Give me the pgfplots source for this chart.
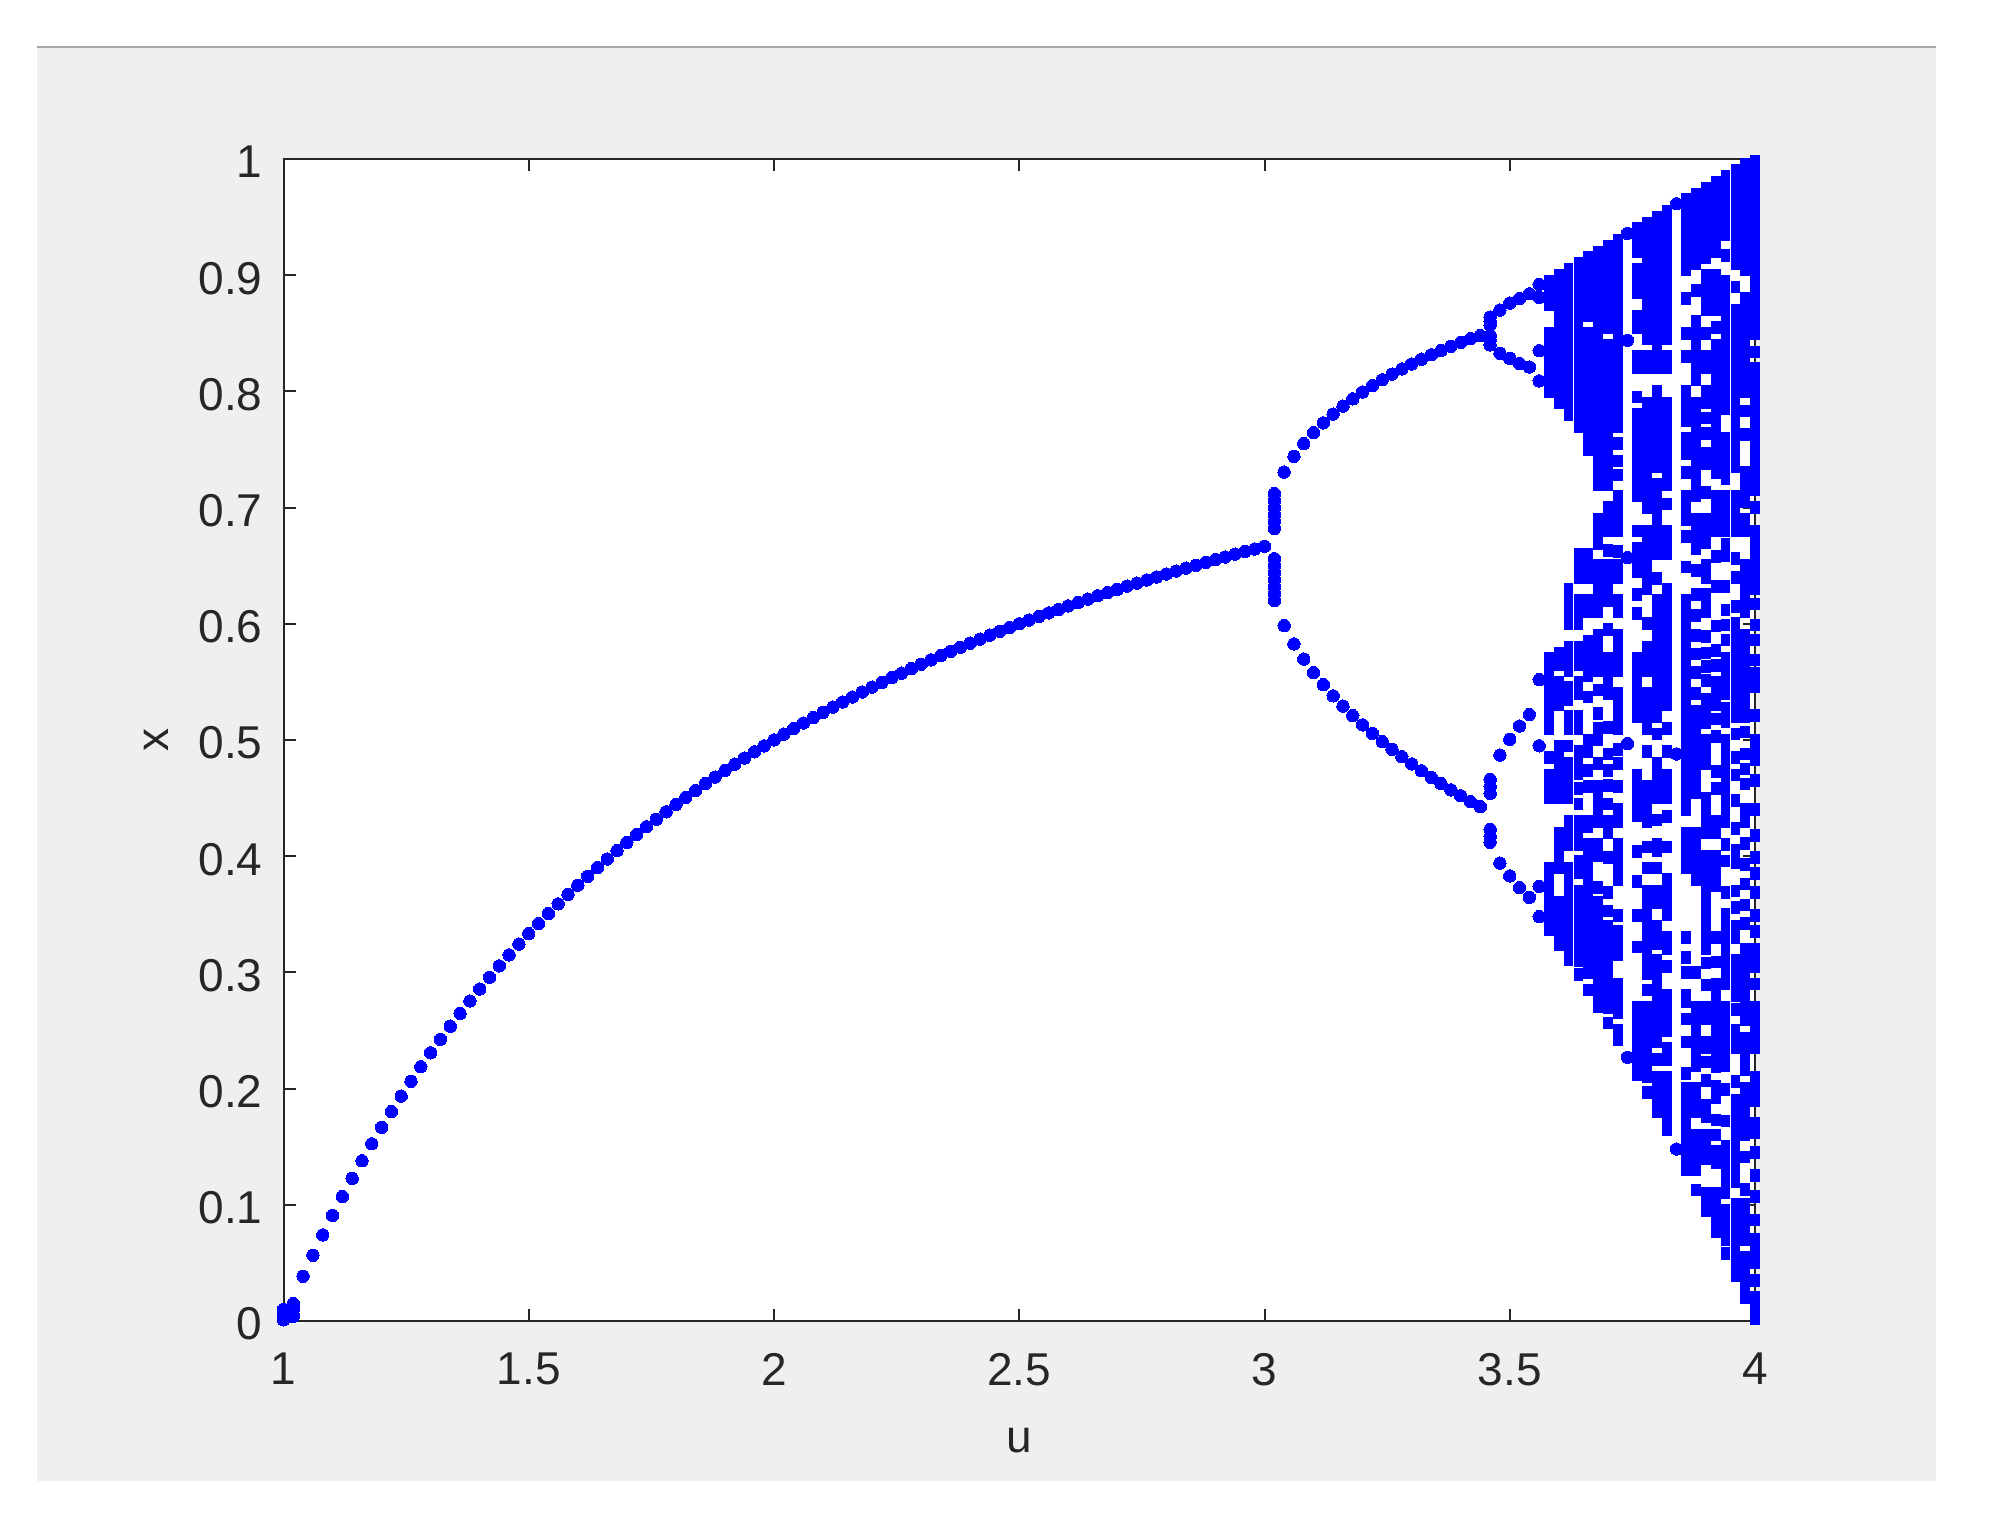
\documentclass[border=0pt]{standalone}
\usepackage{fontspec}
\setmainfont{Liberation Sans}
\usepackage{pgfplots}
\pgfplotsset{compat=1.18}
\definecolor{panel}{HTML}{EFEFEF}
\definecolor{axdark}{HTML}{262626}
\definecolor{topline}{HTML}{A6A6A6}
\begin{document}
\begin{tikzpicture}[x=1pt,y=1pt]
\path[use as bounding box,fill=white] (0,0) rectangle (1001,760);
\fill[panel] (18.5,19.5) rectangle (968,736);
\draw[topline,line width=1pt] (18.5,736.5) -- (968,736.5);
\begin{axis}[
  at={(141.75pt,99.5pt)}, anchor=south west,
  scale only axis, width=735.75pt, height=581pt,
  xmin=1, xmax=4, ymin=0, ymax=1,
  axis background/.style={fill=white},
  clip=false,
  axis line style={draw=axdark,line width=1pt},
  tick style={draw=axdark,line width=1pt},
  tick align=inside, major tick length=6pt,
  xtick={1,1.5,2,2.5,3,3.5,4},
  ytick={0,0.1,0.2,0.3,0.4,0.5,0.6,0.7,0.8,0.9,1},
  xticklabels={1,1.5,2,2.5,3,3.5,4},
  yticklabels={0,0.1,0.2,0.3,0.4,0.5,0.6,0.7,0.8,0.9,1},
  tick label style={font=\fontsize{23}{23}\selectfont,text=axdark},
  xticklabel style={yshift=-12.5pt},
  yticklabel style={xshift=-7pt,yshift=-1.5pt},
  xlabel={u}, ylabel={x},
  label style={font=\fontsize{23}{23}\selectfont,text=axdark},
  xlabel style={yshift=-14.5pt},
  ylabel style={yshift=8pt},
]
\addplot[only marks,mark=*,mark size=3.1pt,color=blue,mark options={fill=blue,draw=blue,line width=0pt}] coordinates {
(1,.001)(1,.004)(1,.007)(1,.01)(1.02,.004)(1.02,.01)(1.02,.015)
(1.04,.0385)(1.06,.0566)(1.08,.0741)(1.1,.0909)(1.12,.1071)(1.14,.1228)(1.16,.1379)(1.18,.1525)(1.2,.1667)(1.22,.1803)(1.24,.1935)(1.26,.2063)(1.28,.2188)(1.3,.2308)(1.32,.2424)(1.34,.2537)(1.36,.2647)(1.38,.2754)(1.4,.2857)(1.42,.2958)(1.44,.3056)(1.46,.3151)(1.48,.3243)(1.5,.3333)
(1.52,.3421)(1.54,.3506)(1.56,.359)(1.58,.3671)(1.6,.375)(1.62,.3827)(1.64,.3902)(1.66,.3976)(1.68,.4048)(1.7,.4118)(1.72,.4186)(1.74,.4253)(1.76,.4318)(1.78,.4382)(1.8,.4444)(1.82,.4505)(1.84,.4565)(1.86,.4624)(1.88,.4681)(1.9,.4737)(1.92,.4792)(1.94,.4845)(1.96,.4898)(1.98,.4949)(2,.5)
(2.02,.505)(2.04,.5098)(2.06,.5146)(2.08,.5192)(2.1,.5238)(2.12,.5283)(2.14,.5327)(2.16,.537)(2.18,.5413)(2.2,.5455)(2.22,.5495)(2.24,.5536)(2.26,.5575)(2.28,.5614)(2.3,.5652)(2.32,.569)(2.34,.5726)(2.36,.5763)(2.38,.5798)(2.4,.5833)(2.42,.5868)(2.44,.5902)(2.46,.5935)(2.48,.5968)(2.5,.6)
(2.52,.6032)(2.54,.6063)(2.56,.6094)(2.58,.6124)(2.6,.6154)(2.62,.6183)(2.64,.6212)(2.66,.6241)(2.68,.6269)(2.7,.6296)(2.72,.6324)(2.74,.635)(2.76,.6377)(2.78,.6403)(2.8,.6429)(2.82,.6454)(2.84,.6479)(2.86,.6503)(2.88,.6528)(2.9,.6552)(2.92,.6575)(2.94,.6599)(2.96,.6622)(2.98,.6644)(3,.6667)
(3.02,.712)(3.02,.706)(3.02,.70)(3.02,.694)(3.02,.688)(3.02,.682)(3.02,.656)(3.02,.65)(3.02,.644)(3.02,.638)(3.02,.632)(3.02,.626)(3.02,.62)
(3.04,.7306)(3.04,.5984)(3.06,.7441)(3.06,.5827)(3.08,.7551)(3.08,.5696)(3.1,.7646)(3.1,.558)(3.12,.7729)(3.12,.5476)(3.14,.7805)(3.14,.538)(3.16,.7873)(3.16,.5292)(3.18,.7936)(3.18,.5209)(3.2,.7995)(3.2,.513)(3.22,.8049)(3.22,.5057)(3.24,.81)(3.24,.4986)(3.26,.8148)(3.26,.492)(3.28,.8193)(3.28,.4856)(3.3,.8236)(3.3,.4794)
(3.32,.8277)(3.32,.4735)(3.34,.8315)(3.34,.4679)(3.36,.8352)(3.36,.4624)(3.38,.8388)(3.38,.4571)(3.4,.8421)(3.4,.452)(3.42,.8454)(3.42,.447)(3.44,.8481)(3.44,.4426)
(3.46,.857)(3.46,.86)(3.46,.864)(3.46,.844)(3.46,.84)(3.46,.848)(3.46,.466)(3.46,.46)(3.46,.454)(3.46,.423)(3.46,.417)(3.46,.412)
(3.48,.87)(3.48,.8328)(3.48,.487)(3.48,.394)
(3.5,.876)(3.5,.8285)(3.5,.5006)(3.5,.383)
(3.52,.88)(3.52,.824)(3.52,.512)(3.52,.373)
(3.54,.884)(3.54,.821)(3.54,.522)(3.54,.3646)
(3.56,.892)(3.56,.881)(3.56,.835)(3.56,.809)(3.56,.552)(3.56,.495)(3.56,.374)(3.56,.348)
(3.74,.936)(3.74,.844)(3.74,.657)(3.74,.497)(3.74,.227)
(3.84,.9615)(3.84,.488)(3.84,.148)
};
\addplot[only marks,mark=square*,mark size=2.9pt,color=blue,mark options={xscale=.75,fill=blue,draw=blue,line width=0pt}] coordinates {
(3.58,.895)(3.58,.885)(3.58,.875)(3.58,.85)(3.58,.84)(3.58,.83)(3.58,.82)(3.58,.81)(3.58,.80)(3.58,.57)(3.58,.56)(3.58,.55)(3.58,.54)(3.58,.53)(3.58,.52)(3.58,.51)(3.58,.485)(3.58,.47)(3.58,.46)(3.58,.45)(3.58,.39)(3.58,.38)(3.58,.37)(3.58,.36)(3.58,.35)(3.58,.34)(3.58,.3364)
(3.6,.9)(3.6,.89)(3.6,.88)(3.6,.87)(3.6,.86)(3.6,.85)(3.6,.84)(3.6,.83)(3.6,.82)(3.6,.81)(3.6,.8)(3.6,.79)(3.6,.575)(3.6,.565)(3.6,.55)(3.6,.54)(3.6,.53)(3.6,.495)(3.6,.49)(3.6,.48)(3.6,.47)(3.6,.46)(3.6,.45)(3.6,.42)(3.6,.41)(3.6,.4)(3.6,.39)(3.6,.36)(3.6,.35)(3.6,.34)(3.6,.33)(3.6,.324)
(3.62,.905)(3.62,.895)(3.62,.89)(3.62,.88)(3.62,.87)(3.62,.86)(3.62,.85)(3.62,.84)(3.62,.83)(3.62,.82)(3.62,.81)(3.62,.8)(3.62,.79)(3.62,.78)(3.62,.63)(3.62,.62)(3.62,.61)(3.62,.6)(3.62,.58)(3.62,.57)(3.62,.56)(3.62,.545)(3.62,.535)(3.62,.52)(3.62,.51)(3.62,.495)(3.62,.48)(3.62,.47)(3.62,.46)(3.62,.45)(3.62,.43)(3.62,.42)(3.62,.41)(3.62,.39)(3.62,.38)(3.62,.37)(3.62,.36)(3.62,.35)(3.62,.34)(3.62,.33)(3.62,.32)(3.62,.3113)
(3.64,.91)(3.64,.9)(3.64,.89)(3.64,.88)(3.64,.87)(3.64,.86)(3.64,.85)(3.64,.84)(3.64,.83)(3.64,.82)(3.64,.81)(3.64,.8)(3.64,.79)(3.64,.78)(3.64,.77)(3.64,.66)(3.64,.65)(3.64,.64)(3.64,.62)(3.64,.61)(3.64,.6)(3.64,.58)(3.64,.57)(3.64,.565)(3.64,.55)(3.64,.54)(3.64,.52)(3.64,.51)(3.64,.49)(3.64,.48)(3.64,.471)(3.64,.458)(3.64,.445)(3.64,.43)(3.64,.42)(3.64,.41)(3.64,.396)(3.64,.386)(3.64,.37)(3.64,.36)(3.64,.35)(3.64,.34)(3.64,.33)(3.64,.32)(3.64,.31)(3.64,.2982)
(3.66,.915)(3.66,.905)(3.66,.895)(3.66,.885)(3.66,.875)(3.66,.865)(3.66,.85)(3.66,.84)(3.66,.83)(3.66,.82)(3.66,.81)(3.66,.8)(3.66,.79)(3.66,.78)(3.66,.77)(3.66,.76)(3.66,.75)(3.66,.66)(3.66,.65)(3.66,.64)(3.66,.62)(3.66,.61)(3.66,.585)(3.66,.575)(3.66,.565)(3.66,.555)(3.66,.537)(3.66,.5)(3.66,.49)(3.66,.474)(3.66,.46)(3.66,.43)(3.66,.425)(3.66,.41)(3.66,.4)(3.66,.39)(3.66,.38)(3.66,.37)(3.66,.36)(3.66,.35)(3.66,.34)(3.66,.33)(3.66,.32)(3.66,.31)(3.66,.3)(3.66,.2847)
(3.68,.92)(3.68,.91)(3.68,.9)(3.68,.89)(3.68,.88)(3.68,.87)(3.68,.86)(3.68,.85)(3.68,.84)(3.68,.83)(3.68,.82)(3.68,.81)(3.68,.8)(3.68,.79)(3.68,.78)(3.68,.77)(3.68,.76)(3.68,.75)(3.68,.74)(3.68,.73)(3.68,.72)(3.68,.69)(3.68,.68)(3.68,.669)(3.68,.65)(3.68,.64)(3.68,.63)(3.68,.62)(3.68,.61)(3.68,.59)(3.68,.58)(3.68,.57)(3.68,.56)(3.68,.543)(3.68,.523)(3.68,.51)(3.68,.5)(3.68,.48)(3.68,.46)(3.68,.45)(3.68,.44)(3.68,.43)(3.68,.41)(3.68,.4)(3.68,.373)(3.68,.36)(3.68,.35)(3.68,.34)(3.68,.33)(3.68,.32)(3.68,.31)(3.68,.3)(3.68,.29)(3.68,.28)(3.68,.2708)
(3.7,.925)(3.7,.915)(3.7,.905)(3.7,.895)(3.7,.885)(3.7,.875)(3.7,.865)(3.7,.855)(3.7,.84)(3.7,.83)(3.7,.82)(3.7,.81)(3.7,.8)(3.7,.79)(3.7,.78)(3.7,.77)(3.7,.76)(3.7,.75)(3.7,.74)(3.7,.73)(3.7,.72)(3.7,.7)(3.7,.69)(3.7,.68)(3.7,.663)(3.7,.65)(3.7,.64)(3.7,.63)(3.7,.62)(3.7,.595)(3.7,.57)(3.7,.56)(3.7,.55)(3.7,.54)(3.7,.511)(3.7,.488)(3.7,.474)(3.7,.461)(3.7,.445)(3.7,.43)(3.7,.42)(3.7,.399)(3.7,.369)(3.7,.353)(3.7,.34)(3.7,.33)(3.7,.32)(3.7,.31)(3.7,.3)(3.7,.29)(3.7,.28)(3.7,.27)(3.7,.2566)
(3.72,.93)(3.72,.92)(3.72,.91)(3.72,.9)(3.72,.89)(3.72,.88)(3.72,.87)(3.72,.86)(3.72,.85)(3.72,.84)(3.72,.83)(3.72,.82)(3.72,.81)(3.72,.8)(3.72,.79)(3.72,.78)(3.72,.77)(3.72,.755)(3.72,.74)(3.72,.728)(3.72,.71)(3.72,.7)(3.72,.69)(3.72,.68)(3.72,.662)(3.72,.65)(3.72,.64)(3.72,.62)(3.72,.61)(3.72,.59)(3.72,.58)(3.72,.57)(3.72,.56)(3.72,.54)(3.72,.53)(3.72,.52)(3.72,.51)(3.72,.492)(3.72,.48)(3.72,.46)(3.72,.44)(3.72,.43)(3.72,.41)(3.72,.4)(3.72,.39)(3.72,.38)(3.72,.349)(3.72,.335)(3.72,.325)(3.72,.315)(3.72,.29)(3.72,.28)(3.72,.27)(3.72,.265)(3.72,.25)(3.72,.2421)
(3.76,.94)(3.76,.93)(3.76,.92)(3.76,.905)(3.76,.895)(3.76,.885)(3.76,.865)(3.76,.855)(3.76,.83)(3.76,.82)(3.76,.795)(3.76,.78)(3.76,.77)(3.76,.76)(3.76,.75)(3.76,.74)(3.76,.73)(3.76,.72)(3.76,.71)(3.76,.68)(3.76,.665)(3.76,.655)(3.76,.645)(3.76,.625)(3.76,.609)(3.76,.57)(3.76,.56)(3.76,.55)(3.76,.54)(3.76,.53)(3.76,.52)(3.76,.47)(3.76,.46)(3.76,.45)(3.76,.44)(3.76,.435)(3.76,.404)(3.76,.378)(3.76,.349)(3.76,.322)(3.76,.27)(3.76,.26)(3.76,.25)(3.76,.24)(3.76,.23)(3.76,.22)(3.76,.2121)
(3.78,.945)(3.78,.935)(3.78,.925)(3.78,.915)(3.78,.905)(3.78,.895)(3.78,.885)(3.78,.875)(3.78,.865)(3.78,.855)(3.78,.845)(3.78,.83)(3.78,.82)(3.78,.79)(3.78,.78)(3.78,.77)(3.78,.76)(3.78,.75)(3.78,.74)(3.78,.73)(3.78,.72)(3.78,.71)(3.78,.7)(3.78,.68)(3.78,.67)(3.78,.66)(3.78,.65)(3.78,.64)(3.78,.63)(3.78,.6)(3.78,.58)(3.78,.57)(3.78,.56)(3.78,.54)(3.78,.53)(3.78,.52)(3.78,.51)(3.78,.49)(3.78,.46)(3.78,.45)(3.78,.44)(3.78,.43)(3.78,.408)(3.78,.39)(3.78,.37)(3.78,.36)(3.78,.35)(3.78,.34)(3.78,.33)(3.78,.32)(3.78,.31)(3.78,.299)(3.78,.285)(3.78,.27)(3.78,.26)(3.78,.25)(3.78,.24)(3.78,.23)(3.78,.22)(3.78,.21)(3.78,.1965)
(3.8,.95)(3.8,.94)(3.8,.93)(3.8,.92)(3.8,.91)(3.8,.9)(3.8,.89)(3.8,.88)(3.8,.87)(3.8,.86)(3.8,.85)(3.8,.84)(3.8,.83)(3.8,.82)(3.8,.8)(3.8,.79)(3.8,.78)(3.8,.77)(3.8,.76)(3.8,.75)(3.8,.74)(3.8,.735)(3.8,.72)(3.8,.71)(3.8,.7)(3.8,.69)(3.8,.68)(3.8,.67)(3.8,.66)(3.8,.639)(3.8,.62)(3.8,.61)(3.8,.6)(3.8,.59)(3.8,.58)(3.8,.57)(3.8,.56)(3.8,.55)(3.8,.54)(3.8,.53)(3.8,.52)(3.8,.505)(3.8,.48)(3.8,.47)(3.8,.46)(3.8,.45)(3.8,.431)(3.8,.41)(3.8,.405)(3.8,.39)(3.8,.37)(3.8,.36)(3.8,.34)(3.8,.33)(3.8,.325)(3.8,.31)(3.8,.3)(3.8,.29)(3.8,.28)(3.8,.27)(3.8,.26)(3.8,.25)(3.8,.24)(3.8,.225)(3.8,.21)(3.8,.2)(3.8,.19)(3.8,.1805)
(3.82,.955)(3.82,.945)(3.82,.935)(3.82,.925)(3.82,.915)(3.82,.905)(3.82,.895)(3.82,.885)(3.82,.875)(3.82,.865)(3.82,.855)(3.82,.845)(3.82,.83)(3.82,.82)(3.82,.79)(3.82,.78)(3.82,.77)(3.82,.76)(3.82,.75)(3.82,.74)(3.82,.73)(3.82,.72)(3.82,.703)(3.82,.68)(3.82,.67)(3.82,.66)(3.82,.63)(3.82,.62)(3.82,.61)(3.82,.6)(3.82,.59)(3.82,.58)(3.82,.57)(3.82,.56)(3.82,.55)(3.82,.54)(3.82,.53)(3.82,.51)(3.82,.49)(3.82,.47)(3.82,.46)(3.82,.45)(3.82,.434)(3.82,.408)(3.82,.38)(3.82,.37)(3.82,.36)(3.82,.35)(3.82,.33)(3.82,.32)(3.82,.305)(3.82,.28)(3.82,.27)(3.82,.26)(3.82,.25)(3.82,.235)(3.82,.225)(3.82,.21)(3.82,.2)(3.82,.19)(3.82,.18)(3.82,.17)(3.82,.1642)
(3.86,.965)(3.86,.955)(3.86,.945)(3.86,.935)(3.86,.925)(3.86,.915)(3.86,.905)(3.86,.88)(3.86,.85)(3.86,.83)(3.86,.8)(3.86,.79)(3.86,.784)(3.86,.775)(3.86,.76)(3.86,.755)(3.86,.746)(3.86,.73)(3.86,.71)(3.86,.7)(3.86,.69)(3.86,.675)(3.86,.649)(3.86,.62)(3.86,.61)(3.86,.6)(3.86,.59)(3.86,.58)(3.86,.57)(3.86,.56)(3.86,.55)(3.86,.54)(3.86,.53)(3.86,.52)(3.86,.51)(3.86,.5)(3.86,.49)(3.86,.48)(3.86,.47)(3.86,.46)(3.86,.45)(3.86,.44)(3.86,.42)(3.86,.41)(3.86,.4)(3.86,.39)(3.86,.33)(3.86,.313)(3.86,.3)(3.86,.28)(3.86,.275)(3.86,.26)(3.86,.24)(3.86,.213)(3.86,.2)(3.86,.19)(3.86,.18)(3.86,.17)(3.86,.16)(3.86,.15)(3.86,.14)(3.86,.1304)
(3.88,.97)(3.88,.96)(3.88,.95)(3.88,.94)(3.88,.93)(3.88,.92)(3.88,.91)(3.88,.887)(3.88,.86)(3.88,.85)(3.88,.84)(3.88,.83)(3.88,.82)(3.88,.81)(3.88,.79)(3.88,.78)(3.88,.77)(3.88,.76)(3.88,.75)(3.88,.74)(3.88,.73)(3.88,.72)(3.88,.71)(3.88,.69)(3.88,.68)(3.88,.67)(3.88,.665)(3.88,.646)(3.88,.625)(3.88,.607)(3.88,.59)(3.88,.574)(3.88,.558)(3.88,.54)(3.88,.525)(3.88,.515)(3.88,.505)(3.88,.495)(3.88,.485)(3.88,.475)(3.88,.465)(3.88,.455)(3.88,.42)(3.88,.41)(3.88,.4)(3.88,.39)(3.88,.38)(3.88,.3)(3.88,.27)(3.88,.26)(3.88,.25)(3.88,.24)(3.88,.231)(3.88,.22)(3.88,.2)(3.88,.19)(3.88,.18)(3.88,.16)(3.88,.15)(3.88,.14)(3.88,.13)(3.88,.1129)
(3.9,.975)(3.9,.965)(3.9,.955)(3.9,.945)(3.9,.935)(3.9,.925)(3.9,.915)(3.9,.9)(3.9,.89)(3.9,.88)(3.9,.87)(3.9,.85)(3.9,.83)(3.9,.82)(3.9,.8)(3.9,.79)(3.9,.777)(3.9,.764)(3.9,.747)(3.9,.738)(3.9,.713)(3.9,.69)(3.9,.68)(3.9,.67)(3.9,.65)(3.9,.64)(3.9,.625)(3.9,.615)(3.9,.61)(3.9,.589)(3.9,.575)(3.9,.563)(3.9,.551)(3.9,.535)(3.9,.525)(3.9,.515)(3.9,.5)(3.9,.49)(3.9,.48)(3.9,.45)(3.9,.44)(3.9,.43)(3.9,.42)(3.9,.4)(3.9,.39)(3.9,.38)(3.9,.37)(3.9,.36)(3.9,.35)(3.9,.34)(3.9,.33)(3.9,.32)(3.9,.308)(3.9,.289)(3.9,.27)(3.9,.26)(3.9,.24)(3.9,.235)(3.9,.223)(3.9,.207)(3.9,.186)(3.9,.176)(3.9,.16)(3.9,.15)(3.9,.14)(3.9,.11)(3.9,.1)(3.9,.0951)
(3.92,.98)(3.92,.97)(3.92,.96)(3.92,.95)(3.92,.94)(3.92,.93)(3.92,.92)(3.92,.9)(3.92,.89)(3.92,.88)(3.92,.87)(3.92,.855)(3.92,.84)(3.92,.83)(3.92,.82)(3.92,.81)(3.92,.8)(3.92,.79)(3.92,.78)(3.92,.77)(3.92,.76)(3.92,.75)(3.92,.74)(3.92,.73)(3.92,.71)(3.92,.7)(3.92,.69)(3.92,.68)(3.92,.658)(3.92,.632)(3.92,.598)(3.92,.577)(3.92,.564)(3.92,.55)(3.92,.54)(3.92,.53)(3.92,.518)(3.92,.503)(3.92,.473)(3.92,.458)(3.92,.43)(3.92,.42)(3.92,.4)(3.92,.39)(3.92,.38)(3.92,.375)(3.92,.33)(3.92,.309)(3.92,.29)(3.92,.28)(3.92,.27)(3.92,.26)(3.92,.25)(3.92,.24)(3.92,.23)(3.92,.219)(3.92,.202)(3.92,.192)(3.92,.173)(3.92,.16)(3.92,.146)(3.92,.136)(3.92,.11)(3.92,.1)(3.92,.09)(3.92,.08)(3.92,.0768)
(3.94,.985)(3.94,.975)(3.94,.965)(3.94,.955)(3.94,.945)(3.94,.935)(3.94,.917)(3.94,.895)(3.94,.885)(3.94,.875)(3.94,.865)(3.94,.855)(3.94,.845)(3.94,.835)(3.94,.825)(3.94,.815)(3.94,.805)(3.94,.795)(3.94,.785)(3.94,.76)(3.94,.75)(3.94,.74)(3.94,.73)(3.94,.725)(3.94,.71)(3.94,.7)(3.94,.69)(3.94,.68)(3.94,.668)(3.94,.659)(3.94,.632)(3.94,.612)(3.94,.599)(3.94,.586)(3.94,.57)(3.94,.56)(3.94,.55)(3.94,.54)(3.94,.527)(3.94,.516)(3.94,.5)(3.94,.49)(3.94,.48)(3.94,.47)(3.94,.46)(3.94,.45)(3.94,.44)(3.94,.43)(3.94,.41)(3.94,.396)(3.94,.369)(3.94,.35)(3.94,.34)(3.94,.33)(3.94,.32)(3.94,.31)(3.94,.3)(3.94,.29)(3.94,.27)(3.94,.26)(3.94,.25)(3.94,.24)(3.94,.23)(3.94,.22)(3.94,.199)(3.94,.172)(3.94,.15)(3.94,.14)(3.94,.13)(3.94,.12)(3.94,.11)(3.94,.095)(3.94,.09)(3.94,.08)(3.94,.07)(3.94,.0582)
(3.96,.99)(3.96,.98)(3.96,.97)(3.96,.96)(3.96,.95)(3.96,.94)(3.96,.93)(3.96,.92)(3.96,.91)(3.96,.89)(3.96,.87)(3.96,.86)(3.96,.85)(3.96,.84)(3.96,.83)(3.96,.82)(3.96,.81)(3.96,.8)(3.96,.79)(3.96,.78)(3.96,.77)(3.96,.76)(3.96,.75)(3.96,.74)(3.96,.735)(3.96,.71)(3.96,.7)(3.96,.69)(3.96,.68)(3.96,.656)(3.96,.64)(3.96,.615)(3.96,.6)(3.96,.59)(3.96,.58)(3.96,.57)(3.96,.56)(3.96,.55)(3.96,.54)(3.96,.53)(3.96,.52)(3.96,.505)(3.96,.485)(3.96,.47)(3.96,.448)(3.96,.424)(3.96,.405)(3.96,.394)(3.96,.37)(3.96,.356)(3.96,.34)(3.96,.33)(3.96,.31)(3.96,.3)(3.96,.29)(3.96,.28)(3.96,.268)(3.96,.25)(3.96,.24)(3.96,.235)(3.96,.206)(3.96,.19)(3.96,.18)(3.96,.17)(3.96,.16)(3.96,.15)(3.96,.14)(3.96,.13)(3.96,.12)(3.96,.1)(3.96,.09)(3.96,.08)(3.96,.07)(3.96,.06)(3.96,.05)(3.96,.0392)
(3.98,.995)(3.98,.985)(3.98,.975)(3.98,.965)(3.98,.955)(3.98,.945)(3.98,.935)(3.98,.925)(3.98,.915)(3.98,.905)(3.98,.88)(3.98,.87)(3.98,.86)(3.98,.85)(3.98,.84)(3.98,.83)(3.98,.82)(3.98,.81)(3.98,.8)(3.98,.783)(3.98,.763)(3.98,.73)(3.98,.72)(3.98,.71)(3.98,.705)(3.98,.69)(3.98,.68)(3.98,.65)(3.98,.64)(3.98,.63)(3.98,.62)(3.98,.61)(3.98,.59)(3.98,.58)(3.98,.57)(3.98,.56)(3.98,.55)(3.98,.54)(3.98,.529)(3.98,.52)(3.98,.507)(3.98,.488)(3.98,.475)(3.98,.462)(3.98,.44)(3.98,.43)(3.98,.411)(3.98,.393)(3.98,.376)(3.98,.358)(3.98,.342)(3.98,.32)(3.98,.31)(3.98,.3)(3.98,.29)(3.98,.28)(3.98,.27)(3.98,.259)(3.98,.243)(3.98,.236)(3.98,.227)(3.98,.216)(3.98,.2)(3.98,.19)(3.98,.18)(3.98,.17)(3.98,.16)(3.98,.141)(3.98,.113)(3.98,.1)(3.98,.09)(3.98,.08)(3.98,.07)(3.98,.055)(3.98,.05)(3.98,.04)(3.98,.03)(3.98,.0198)
(4,.998)(4,.99)(4,.98)(4,.97)(4,.96)(4,.95)(4,.94)(4,.93)(4,.92)(4,.91)(4,.9)(4,.89)(4,.88)(4,.87)(4,.86)(4,.85)(4,.834)(4,.82)(4,.81)(4,.8)(4,.79)(4,.78)(4,.77)(4,.76)(4,.75)(4,.74)(4,.73)(4,.72)(4,.715)(4,.7)(4,.68)(4,.67)(4,.66)(4,.65)(4,.64)(4,.63)(4,.617)(4,.599)(4,.586)(4,.569)(4,.557)(4,.546)(4,.521)(4,.5)(4,.49)(4,.483)(4,.465)(4,.44)(4,.418)(4,.399)(4,.385)(4,.369)(4,.349)(4,.335)(4,.32)(4,.31)(4,.305)(4,.29)(4,.27)(4,.26)(4,.25)(4,.24)(4,.235)(4,.21)(4,.2)(4,.19)(4,.17)(4,.162)(4,.145)(4,.125)(4,.107)(4,.087)(4,.07)(4,.06)(4,.05)(4,.035)(4,.02)(4,.01)(4,.002)
};
\end{axis}
\end{tikzpicture}
\end{document}
